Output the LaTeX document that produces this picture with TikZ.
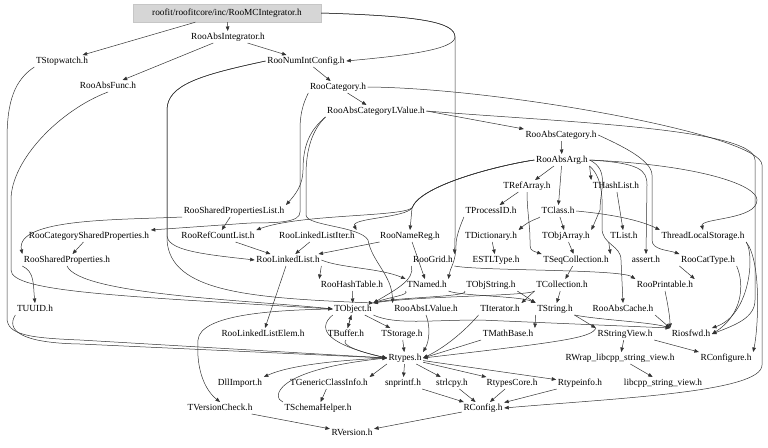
\documentclass[tikz,border=0pt]{standalone}
\usepackage{fontspec}
\setmainfont{Liberation Serif}
\usetikzlibrary{arrows.meta}
\begin{document}
\begin{tikzpicture}[x=1pt,y=-1pt,
  hdr/.style={font=\fontsize{9.3}{11}\selectfont, inner sep=1.5pt, text height=6.6pt, text depth=2pt},
  root/.style={hdr, fill=gray!32, draw=gray!45, minimum width=188pt, minimum height=18pt},
  edge/.style={draw=black!80, line width=0.5pt, -{Triangle[length=4.5pt,width=3.6pt]}},
]
\useasboundingbox (0,0) rectangle (768,447);
% nodes
\node[root] (mc) at (227,13) {roofit/roofitcore/inc/RooMCIntegrator.h};
\node[hdr] (absint) at (228,37) {RooAbsIntegrator.h};
\node[hdr] (stopw) at (62,61) {TStopwatch.h};
\node[hdr] (numint) at (306,61) {RooNumIntConfig.h};
\node[hdr] (absfunc) at (108,86) {RooAbsFunc.h};
\node[hdr] (cat) at (338,87) {RooCategory.h};
\node[hdr] (acatlv) at (376,111) {RooAbsCategoryLValue.h};
\node[hdr] (abscat) at (561,135) {RooAbsCategory.h};
\node[hdr] (absarg) at (562,160) {RooAbsArg.h};
\node[hdr] (trefarr) at (527,186) {TRefArray.h};
\node[hdr] (thash) at (616,186) {THashList.h};
\node[hdr] (tpid) at (491,211) {TProcessID.h};
\node[hdr] (tclass) at (558,211) {TClass.h};
\node[hdr] (sharedpl) at (234,211) {RooSharedPropertiesList.h};
\node[hdr] (catshared) at (89,236) {RooCategorySharedProperties.h};
\node[hdr] (refcount) at (218,236) {RooRefCountList.h};
\node[hdr] (llit) at (317,236) {RooLinkedListIter.h};
\node[hdr] (namereg) at (410,236) {RooNameReg.h};
\node[hdr] (tdict) at (491,236) {TDictionary.h};
\node[hdr] (tobjarr) at (566,236) {TObjArray.h};
\node[hdr] (tlist) at (624,236) {TList.h};
\node[hdr] (tls) at (703,236) {ThreadLocalStorage.h};
\node[hdr] (sharedp) at (67,260) {RooSharedProperties.h};
\node[hdr] (linkedl) at (288,260) {RooLinkedList.h};
\node[hdr] (grid) at (433,260) {RooGrid.h};
\node[hdr] (estl) at (496,260) {ESTLType.h};
\node[hdr] (tseq) at (576,260) {TSeqCollection.h};
\node[hdr] (assert) at (646,260) {assert.h};
\node[hdr] (cattype) at (708,260) {RooCatType.h};
\node[hdr] (hasht) at (352,285) {RooHashTable.h};
\node[hdr] (tnamed) at (427,285) {TNamed.h};
\node[hdr] (tobjstr) at (491,285) {TObjString.h};
\node[hdr] (tcoll) at (562,285) {TCollection.h};
\node[hdr] (printable) at (665,285) {RooPrintable.h};
\node[hdr] (tuuid) at (35,309) {TUUID.h};
\node[hdr] (tobject) at (353,309) {TObject.h};
\node[hdr] (abslv) at (426,309) {RooAbsLValue.h};
\node[hdr] (titer) at (500,309) {TIterator.h};
\node[hdr] (tstring) at (555,309) {TString.h};
\node[hdr] (abscache) at (623,309) {RooAbsCache.h};
\node[hdr] (llelem) at (263,334) {RooLinkedListElem.h};
\node[hdr] (tbuffer) at (346,334) {TBuffer.h};
\node[hdr] (tstorage) at (402,334) {TStorage.h};
\node[hdr] (tmath) at (508,334) {TMathBase.h};
\node[hdr] (rsv) at (625,334) {RStringView.h};
\node[hdr] (riosfwd) at (691,334) {Riosfwd.h};
\node[hdr] (rtypes) at (405,358) {Rtypes.h};
\node[hdr] (rwrap) at (620,358) {RWrap\_libcpp\_string\_view.h};
\node[hdr] (rconfigure) at (726,358) {RConfigure.h};
\node[hdr] (dllimp) at (240,383) {DllImport.h};
\node[hdr] (tgci) at (329,383) {TGenericClassInfo.h};
\node[hdr] (snprintf) at (403,383) {snprintf.h};
\node[hdr] (strlcpy) at (452,383) {strlcpy.h};
\node[hdr] (rtcore) at (512,383) {RtypesCore.h};
\node[hdr] (rtinfo) at (580,383) {Rtypeinfo.h};
\node[hdr] (libcpp) at (663,383) {libcpp\_string\_view.h};
\node[hdr] (tvcheck) at (220,408) {TVersionCheck.h};
\node[hdr] (tschema) at (318,408) {TSchemaHelper.h};
\node[hdr] (rconfig) at (483,408) {RConfig.h};
\node[hdr] (rversion) at (352,433) {RVersion.h};
% edges: top
\draw[edge] (mc) -- (absint);
\draw[edge] (mc) -- (stopw);
\draw[edge] (mc.east) .. controls (420,16) and (455,22) .. (455,37) .. controls (455,50) and (400,56) .. (numint.east);
\draw[edge] (mc.east) .. controls (420,16) and (455,22) .. (455,37) -- (455,232) .. controls (455,242) .. (grid.north east);
\draw[edge] (absint) -- (absfunc);
\draw[edge] (absint) -- (numint);
\draw[edge] (numint) -- (cat);
\draw[edge] (cat) -- (acatlv);
\draw[edge] (acatlv.east) -- (abscat.north west);
\draw[edge] (abscat) -- (absarg);
% left long
\draw[edge] (stopw.south west) .. controls (15,80) and (7,100) .. (7,140) -- (7,318) .. controls (7,335) and (30,338) .. (80,340) -- (rtypes.west);
\draw[edge] (absfunc.south) .. controls (60,110) and (11,160) .. (11,200) -- (11,270) .. controls (11,292) and (120,296) .. (tobject.west);
\draw[edge] (tuuid.south west) .. controls (6,330) and (20,343) .. (80,344) -- (rtypes.west);
% numint
\draw[edge] (numint.west) .. controls (200,75) and (167,85) .. (167,110) -- (167,235) .. controls (167,250) and (200,254) .. (linkedl.west);
\draw[edge] (numint.west) .. controls (200,75) and (167,85) .. (167,110) -- (167,240) .. controls (170,292) and (250,298) .. (tobject.north east);
% category
\draw[edge] (cat.south west) .. controls (305,100) and (300,110) .. (300,130) -- (300,212) .. controls (300,222) and (280,223) .. (250,223) -- (catshared.north east);
\draw[edge] (acatlv.south west) .. controls (310,130) and (303,145) .. (303,170) .. controls (303,185) and (295,195) .. (sharedpl.north east);
\draw[edge] (acatlv.south west) .. controls (312,130) and (306,150) .. (306,175) -- (306,215) .. controls (306,226) and (360,226) .. (368,240) .. controls (372,262) and (392,275) .. (abslv.north west);
\draw[edge] (cat.east) .. controls (500,88) and (762,135) .. (762,165) -- (762,365) .. controls (762,392) and (620,398) .. (rconfig.east);
\draw[edge] (acatlv.east) .. controls (560,122) and (755,128) .. (755,160) -- (755,300) .. controls (755,318) and (735,325) .. (riosfwd.east);
% absarg
\draw[edge] (absarg) -- (trefarr);
\draw[edge] (absarg) -- (tclass);
\draw[edge] (absarg.south east) -- (thash.north west);
\draw[edge] (absarg.west) .. controls (500,165) and (420,185) .. (412,208) -- (namereg.north);
\draw[edge] (absarg.west) .. controls (500,165) and (420,185) .. (412,208) .. controls (405,218) and (350,218) .. (llit.north east);
\draw[edge] (absarg.west) .. controls (500,165) and (420,185) .. (412,208) .. controls (400,217) and (300,214) .. (refcount.north east);
\draw[edge] (absarg.east) .. controls (610,170) and (600,190) .. (600,210) -- (tobjarr.north east);
\draw[edge] (absarg.east) .. controls (700,165) and (757,185) .. (757,200) .. controls (757,220) and (700,218) .. (tls.north);
\draw[edge] (absarg.east) .. controls (640,163) and (647,170) .. (647,185) -- (assert.north);
\draw[edge] (abscat.east) .. controls (620,145) and (652,160) .. (652,175) -- (652,240) .. controls (652,250) and (668,250) .. (cattype.north west);
\draw[edge] (absarg.south east) .. controls (605,180) and (602,205) .. (602,228) .. controls (602,245) and (621,245) .. (621,260) -- (abscache.north);
% T classes
\draw[edge] (trefarr) -- (tpid);
\draw[edge] (trefarr.south) .. controls (527,210) and (530,225) .. (530,240) .. controls (530,250) .. (tseq.north west);
\draw[edge] (tclass) -- (tobjarr);
\draw[edge] (tclass.south west) .. controls (540,218) and (530,220) .. (tdict.north east);
\draw[edge] (tclass.east) .. controls (610,214) and (640,220) .. (tls.north west);
\draw[edge] (tpid.south west) .. controls (462,222) and (456,235) .. (456,245) .. controls (456,262) and (450,268) .. (tnamed.north east);
\draw[edge] (thash) -- (tlist);
\draw[edge] (tobjarr) -- (tseq);
\draw[edge] (tlist.south west) -- (tseq.north east);
\draw[edge] (tdict) -- (estl);
\draw[edge] (tseq) -- (tcoll);
\draw[edge] (tcoll.south west) -- (titer.north east);
\draw[edge] (tcoll) -- (tstring);
\draw[edge] (tcoll.south west) .. controls (530,296) and (420,296) .. (tobject.north east);
\draw[edge] (tnamed.south west) .. controls (410,295) and (390,297) .. (tobject.north east);
\draw[edge] (tnamed.south east) .. controls (460,296) and (520,296) .. (tstring.north west);
\draw[edge] (tobjstr.south west) .. controls (470,297) and (400,297) .. (tobject.north east);
\draw[edge] (tobjstr.south east) -- (tstring.north west);
% Roo middle
\draw[edge] (hasht) -- (tobject);
\draw[edge] (linkedl.south east) -- (hasht.north west);
\draw[edge] (linkedl.east) .. controls (340,268) and (380,268) .. (tnamed.north west);
\draw[edge] (linkedl) -- (llelem);
\draw[edge] (llit) -- (linkedl);
\draw[edge] (refcount) -- (linkedl);
\draw[edge] (namereg) -- (linkedl);
\draw[edge] (namereg) -- (tnamed);
\draw[edge] (grid.south east) .. controls (480,271) and (620,269) .. (printable.north west);
\draw[edge] (grid.south west) .. controls (415,280) and (395,290) .. (tobject.north east);
\draw[edge] (sharedpl) -- (refcount);
\draw[edge] (sharedpl.south west) .. controls (120,220) and (15,218) .. (sharedp.north west);
\draw[edge] (catshared) -- (sharedp);
\draw[edge] (sharedp.south west) .. controls (35,272) and (33,285) .. (tuuid.north);
\draw[edge] (sharedp.south) .. controls (80,295) and (250,300) .. (tobject.west);
% right middle
\draw[edge] (cattype.south west) -- (printable.north east);
\draw[edge] (cattype.south east) .. controls (745,285) and (742,315) .. (riosfwd.east);
\draw[edge] (printable.south) .. controls (668,305) and (670,318) .. (riosfwd.north west);
\draw[edge] (abscache.south east) -- (riosfwd.north west);
\draw[edge] (tstring.south east) .. controls (600,320) and (650,322) .. (riosfwd.north west);
\draw[edge] (tstring.south east) -- (rsv.north west);
\draw[edge] (tstring.south west) -- (tmath.north east);
\draw[edge] (tobject.south east) .. controls (395,325) and (430,320) .. (480,320) -- (riosfwd.north west);
\draw[edge] (tls.south east) .. controls (755,255) and (750,315) .. (riosfwd.north east);
\draw[edge] (tls.south east) .. controls (762,262) and (758,330) .. (rconfigure.north east);
% lower
\draw[edge] (tobject) -- (tstorage);
\draw[edge] (tobject) -- (tbuffer);
\draw[edge] (tbuffer) -- (tobject);
\draw[edge] (tobject.south west) .. controls (315,330) and (330,345) .. (rtypes.west);
\draw[edge] (tbuffer.south) .. controls (340,345) and (360,352) .. (rtypes.west);
\draw[edge] (tobject.west) .. controls (270,310) and (200,315) .. (198,340) .. controls (196,370) and (205,390) .. (tvcheck.north);
\draw[edge] (tstorage) -- (rtypes);
\draw[edge] (abslv.south) .. controls (430,325) and (430,340) .. (rtypes.north east);
\draw[edge] (titer.south west) .. controls (470,325) and (450,345) .. (rtypes.east);
\draw[edge] (tmath.south west) -- (rtypes.east);
\draw[edge] (rsv.north west) .. controls (592,338) and (560,342) .. (rtypes.east);
\draw[edge] (rsv) -- (rwrap);
\draw[edge] (rsv.south east) -- (rconfigure.north west);
\draw[edge] (rwrap) -- (libcpp);
\draw[edge] (rtypes) -- (snprintf);
\draw[edge] (rtypes) -- (strlcpy);
\draw[edge] (rtypes) -- (rtcore);
\draw[edge] (rtypes) -- (rtinfo);
\draw[edge] (rtypes.west) .. controls (340,360) and (290,365) .. (dllimp.north east);
\draw[edge] (tschema.north west) .. controls (272,398) and (272,370) .. (rtypes.west);
\draw[edge] (rtypes.south west) -- (tgci.north east);
\draw[edge] (tgci) -- (tschema);
\draw[edge] (snprintf) -- (rconfig);
\draw[edge] (strlcpy) -- (rconfig);
\draw[edge] (rtcore) -- (rconfig);
\draw[edge] (rtinfo) -- (rconfig);
\draw[edge] (rconfig) -- (rversion);
\draw[edge] (tvcheck) -- (rversion);
\end{tikzpicture}
\end{document}
